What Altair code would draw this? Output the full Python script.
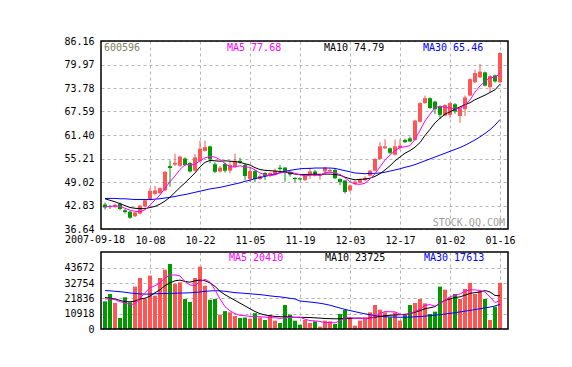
import altair as alt
import pandas as pd

# ---------------- data ----------------
opens = [43.1, 42.6, 42.5, 43.3, 41.6, 41.2, 40.0, 40.7, 42.6, 44.5,
         45.9, 46.1, 46.8, 53.2, 53.6, 53.3, 55.2, 54.0, 52.0, 54.5,
         57.2, 58.4, 53.7, 51.8, 53.8, 52.0, 53.0, 54.6, 53.5, 49.8,
         51.9, 49.8, 51.4, 50.6, 51.1, 52.8, 52.8, 51.6, 50.1, 50.0,
         49.5, 51.0, 51.8, 50.6, 51.8, 51.8, 52.2, 49.8, 49.4, 46.8,
         48.5, 48.8, 49.5, 50.7, 52.0, 55.1, 57.9, 57.9, 56.2, 58.0,
         60.1, 60.5, 60.1, 64.9, 69.8, 71.1, 70.2, 68.9, 66.5, 66.7,
         69.5, 66.4, 68.2, 71.8, 75.3, 76.6, 77.9, 74.0, 77.1, 75.3]
highs = [43.6, 43.0, 43.3, 43.6, 41.9, 41.4, 41.2, 43.0, 44.4, 47.5,
         48.0, 47.6, 51.9, 54.7, 56.5, 56.0, 55.5, 54.3, 56.4, 59.9,
         59.9, 58.6, 54.2, 53.3, 54.2, 54.6, 56.5, 55.4, 54.0, 52.9,
         52.2, 51.0, 51.6, 51.6, 52.6, 53.5, 53.0, 51.8, 50.3, 50.2,
         51.2, 52.8, 52.2, 51.3, 53.0, 52.6, 52.5, 50.0, 49.6, 48.4,
         49.4, 50.0, 50.5, 52.2, 55.3, 59.5, 60.3, 58.1, 60.2, 60.3,
         60.4, 61.0, 65.4, 70.0, 71.8, 71.3, 70.4, 69.1, 69.5, 70.0,
         69.8, 68.6, 71.8, 76.3, 78.6, 80.1, 78.1, 77.2, 77.3, 83.2]
lows = [41.8, 41.9, 42.2, 41.6, 40.7, 39.3, 39.8, 40.5, 42.3, 44.2,
        45.5, 45.8, 46.6, 47.8, 53.2, 53.0, 53.2, 51.5, 51.8, 54.2,
        57.0, 54.0, 51.4, 51.5, 51.5, 51.3, 52.8, 53.8, 49.5, 49.0,
        49.0, 49.5, 49.6, 50.3, 50.9, 52.0, 49.1, 50.4, 49.0, 49.4,
        49.3, 49.8, 50.5, 49.6, 51.0, 51.5, 49.8, 48.2, 46.0, 46.4,
        48.3, 48.6, 49.3, 50.5, 51.8, 54.9, 57.7, 56.4, 56.0, 57.5,
        59.3, 59.5, 59.9, 64.7, 69.6, 68.3, 66.9, 65.6, 66.3, 65.8,
        67.0, 64.6, 66.4, 71.6, 75.1, 76.4, 74.2, 72.7, 75.2, 75.1]
closes = [42.3, 42.4, 43.0, 41.9, 41.1, 39.6, 41.0, 42.8, 44.2, 46.7,
          46.8, 47.4, 51.7, 52.7, 54.1, 55.7, 53.5, 51.8, 55.5, 57.8,
          58.2, 55.0, 51.7, 52.8, 52.0, 53.5, 54.6, 54.2, 50.6, 51.9,
          49.8, 50.6, 50.6, 51.4, 52.0, 52.4, 51.6, 51.0, 49.8, 49.7,
          51.0, 51.8, 50.8, 51.0, 52.8, 52.2, 50.0, 49.0, 46.4, 48.1,
          49.1, 49.6, 50.1, 52.0, 55.1, 58.4, 58.4, 56.7, 58.4, 58.6,
          59.5, 59.7, 65.2, 69.8, 71.1, 68.5, 68.2, 66.7, 69.3, 69.8,
          67.6, 68.4, 71.3, 76.1, 77.7, 78.1, 74.4, 76.9, 75.5, 83.0]
ma5 = [42.5, 42.6, 42.7, 42.6, 42.1, 41.6, 41.3, 41.2, 41.7, 42.9,
       44.3, 45.6, 47.4, 49.1, 50.6, 52.3, 53.6, 53.5, 53.7, 54.6,
       55.4, 55.7, 55.6, 54.9, 53.9, 53.0, 53.0, 53.3, 53.0, 52.9,
       52.2, 51.4, 50.9, 50.7, 50.9, 51.4, 51.6, 51.7, 51.3, 50.9,
       50.6, 50.8, 50.8, 50.8, 51.5, 51.6, 51.4, 51.0, 50.1, 49.1,
       48.5, 48.4, 48.7, 49.8, 51.2, 53.0, 54.8, 56.1, 57.3, 58.1,
       58.3, 58.6, 60.3, 62.6, 65.1, 66.9, 68.6, 69.0, 68.7, 68.5,
       68.3, 68.4, 69.3, 70.6, 72.7, 74.3, 75.5, 76.6, 76.5, 77.68]
ma10 = [44.6, 44.2, 43.8, 43.3, 42.8, 42.3, 42.1, 42.0, 42.0, 42.3,
        42.6, 43.2, 44.0, 45.0, 46.3, 47.6, 48.8, 50.1, 51.4, 53.0,
        54.2, 54.7, 54.6, 54.5, 54.6, 54.5, 54.4, 54.2, 53.8, 53.5,
        52.8, 52.3, 52.1, 52.0, 51.9, 51.8, 51.6, 51.4, 51.1, 51.0,
        51.0, 51.0, 51.1, 51.0, 51.1, 51.1, 51.0, 50.8, 50.3, 49.9,
        49.6, 49.7, 49.8, 50.0, 50.5, 51.2, 52.2, 53.3, 54.6, 55.6,
        56.6, 57.3, 58.2, 59.4, 61.3, 62.9, 64.6, 65.8, 66.9, 67.5,
        68.2, 68.8, 69.4, 69.9, 70.7, 71.3, 71.9, 72.6, 73.3, 74.79]
ma30 = [44.7, 44.7, 44.7, 44.6, 44.6, 44.5, 44.4, 44.4, 44.4, 44.4,
        44.5, 44.6, 44.8, 45.0, 45.2, 45.5, 45.7, 46.0, 46.3, 46.6,
        46.9, 47.2, 47.4, 47.6, 47.9, 48.2, 48.5, 48.8, 49.2, 49.5,
        49.9, 50.2, 50.5, 50.8, 51.1, 51.5, 51.8, 52.1, 52.3, 52.5,
        52.6, 52.6, 52.7, 52.7, 52.7, 52.7, 52.6, 52.3, 52.0, 51.7,
        51.4, 51.3, 51.2, 51.3, 51.3, 51.4, 51.6, 51.9, 52.2, 52.5,
        52.9, 53.2, 53.6, 54.1, 54.6, 55.1, 55.6, 56.1, 56.6, 57.1,
        57.6, 58.1, 58.7, 59.4, 60.1, 60.9, 61.8, 62.8, 64.0, 65.46]
volumes = [19800, 25060, 18620, 7880, 22670, 19090, 30310, 36520, 21480, 38190,
           23870, 36520, 42480, 46540, 32220, 33410, 21480, 19330, 36520, 44630,
           31030, 20900, 21480, 10260, 12800, 11930, 9300, 7880, 8200, 7400,
           11300, 8230, 6440, 9900, 6000, 4300, 17180, 10260, 5970, 3100,
           6440, 4300, 5490, 1670, 5970, 5490, 3580, 10740, 13600, 7160,
           2390, 5970, 8350, 11930, 17180, 13840, 11930, 8350, 11930, 5970,
           10260, 17180, 18620, 21480, 18380, 10740, 12410, 30310, 28160, 22670,
           25060, 21480, 28640, 33000, 25060, 27330, 21480, 6440, 15990, 33000]
vma5 = [21500, 21500, 21000, 19500, 18600, 17500, 18000, 22000, 26000, 29500,
        31000, 33000, 36500, 38500, 38700, 38000, 34000, 31500, 31000, 34000,
        35500, 33500, 28000, 21500, 16000, 13000, 11000, 9800, 9500, 9000,
        9000, 8800, 8500, 8200, 8000, 7600, 8000, 8300, 8200, 8500,
        7000, 6000, 5800, 5400, 4600, 4700, 4400, 6000, 7800, 8200,
        7500, 7700, 7500, 7300, 9000, 11200, 12500, 12300, 12300, 10600,
        9700, 11200, 12500, 14000, 17000, 17400, 16300, 18500, 20400, 23000,
        24200, 25000, 27200, 28000, 28000, 27600, 26500, 23000, 18900, 20410]
vma10 = [22600, 22000, 21500, 20500, 19500, 19500, 20000, 21500, 22000, 23500,
         26000, 28000, 31000, 33000, 34500, 35000, 34000, 33500, 34500, 35000,
         34500, 33000, 30500, 27000, 24500, 22500, 20500, 18500, 16500, 14500,
         12500, 11000, 10000, 9500, 9000, 8800, 8700, 8600, 8400, 8300,
         8300, 8200, 8000, 7800, 7500, 7400, 7300, 7300, 7500, 7500,
         7800, 7800, 7600, 7800, 8400, 9000, 9500, 9800, 10000, 10200,
         10500, 11000, 12000, 13200, 14500, 15200, 16000, 18500, 20500, 21500,
         22500, 23000, 24200, 25500, 26000, 26500, 27500, 26500, 24000, 23725]
vma30 = [27500, 27300, 27000, 26700, 26300, 25800, 25400, 25100, 25000, 25000,
         25200, 25300, 25400, 25500, 25600, 25700, 25800, 25900, 26200, 26500,
         27000, 27200, 27400, 27300, 27000, 26500, 26000, 25800, 25500, 25200,
         24900, 24600, 24200, 23700, 23300, 23000, 22500, 22000, 21500, 20000,
         19700, 19300, 18900, 18400, 17800, 17000, 16000, 15000, 14000, 13200,
         12400, 11600, 10900, 10200, 9600, 9100, 8800, 8600, 8500, 8400,
         8400, 8500, 8700, 8900, 9200, 9500, 9900, 10300, 10700, 11200,
         11700, 12200, 12800, 13300, 13900, 14500, 15100, 15700, 16500, 17613]

tick_pos = [9, 19, 29, 39, 49, 59, 69, 79]
tick_labels = ["10-08", "10-22", "11-05", "11-19", "12-03", "12-17", "01-02", "01-16"]
first_label = "2007-09-18"
price_ticks = [36.64, 42.83, 49.02, 55.21, 61.40, 67.59, 73.78, 79.97, 86.16]
vol_ticks = [0, 10918, 21836, 32754, 43672]
code = "600596"
ma_price_text = ["MA5 77.68", "MA10 74.79", "MA30 65.46"]
ma_vol_text = ["MA5 20410", "MA10 23725", "MA30 17613"]
watermark = "STOCK.QQ.COM"

# ---------------- build ----------------
RED = "#ff5555"
GREEN = "#009900"
MAG = "#ff00ff"
BLUE = "#0000ff"
FONT = "DejaVu Sans Mono"
GRID = "#b4b4b4"
W, H1, H2 = 407, 188, 77

df = pd.DataFrame({
    "i": list(range(len(closes))),
    "open": opens, "high": highs, "low": lows, "close": closes,
    "ma5": ma5, "ma10": ma10, "ma30": ma30,
    "vol": volumes, "vma5": vma5, "vma10": vma10, "vma30": vma30,
})
df["dir"] = ["up" if c >= o else "down" for o, c in zip(opens, closes)]

label_arr = "[" + ",".join("'%s'" % t for t in tick_labels) + "]"
xscale = alt.Scale(domain=[-0.8, 80.6], nice=False, zero=False, padding=0)
color = alt.Color("dir:N", scale=alt.Scale(domain=["up", "down"], range=[RED, GREEN]), legend=None)

x_top_ax = alt.Axis(values=tick_pos, labelExpr=label_arr + "[round((datum.value-9)/10)]",
                    grid=True, gridDash=[3, 3], gridColor=GRID, ticks=False, domain=False,
                    labelOverlap=False, labelPadding=6, labelFont=FONT, labelFontSize=10,
                    labelColor="black")
x_bot_ax = alt.Axis(values=tick_pos, labels=False, grid=True, gridDash=[3, 3],
                    gridColor=GRID, ticks=False, domain=False, labelOverlap=False)
yp_axis = alt.Axis(values=price_ticks, format=".2f", grid=True, gridDash=[3, 3], gridColor=GRID,
                   ticks=False, domain=False, labelOverlap=False, labelPadding=7, labelFont=FONT,
                   labelFontSize=10, labelColor="black")
yp = alt.Scale(domain=[36.64, 86.16], nice=False, zero=False, padding=0)
yv = alt.Scale(domain=[0, 55100], nice=False, zero=True, padding=0)
yv_axis = alt.Axis(values=vol_ticks, format="d", grid=True, gridDash=[3, 3], gridColor=GRID,
                   ticks=False, domain=False, labelOverlap=False, labelPadding=7, labelFont=FONT,
                   labelFontSize=10, labelColor="black")


def xt():
    return alt.X("i:Q", scale=xscale, title=None, axis=x_top_ax)


def xb():
    return alt.X("i:Q", scale=xscale, title=None, axis=x_bot_ax)


def ytop(f):
    return alt.Y(f, scale=yp, title=None, axis=yp_axis)


def ybot(f):
    return alt.Y(f, scale=yv, title=None, axis=yv_axis)


base = alt.Chart(df)
wick = base.mark_rule(strokeWidth=1).encode(x=xt(), y=ytop("low:Q"), y2="high:Q", color=color)
body = base.mark_bar(size=4).encode(x=xt(), y=ytop("open:Q"), y2="close:Q", color=color)
l5 = base.mark_line(color=MAG, strokeWidth=1).encode(x=xt(), y=ytop("ma5:Q"))
l10 = base.mark_line(color="black", strokeWidth=1).encode(x=xt(), y=ytop("ma10:Q"))
l30 = base.mark_line(color=BLUE, strokeWidth=1).encode(x=xt(), y=ytop("ma30:Q"))

txt = pd.DataFrame({
    "t": [code] + ma_price_text + [watermark],
    "x": [3, 126, 223, 322, 404],
    "y": [7, 7, 7, 7, 182],
    "c": ["#808060", MAG, "black", BLUE, "#a0a0a0"],
    "a": ["left", "left", "left", "left", "right"],
})
labels_top = []
for _, r in txt.iterrows():
    labels_top.append(alt.Chart(pd.DataFrame({"t": [r.t]})).mark_text(
        font=FONT, fontSize=10, align=r.a, baseline="middle", color=r.c
    ).encode(x=alt.value(r.x), y=alt.value(r.y), text="t:N"))
first = alt.Chart(pd.DataFrame({"t": [first_label]})).mark_text(
    font=FONT, fontSize=10, align="center", baseline="top", color="black"
).encode(x=alt.value(-6), y=alt.value(H1 + 6), text="t:N")


def frame(h):
    return alt.Chart(pd.DataFrame({"t": [0]})).mark_rect(
        fillOpacity=0, stroke="black", strokeWidth=1.5
    ).encode(x=alt.value(0), x2=alt.value(W), y=alt.value(0), y2=alt.value(h))


top = alt.layer(wick, body, l30, l10, l5, *labels_top, first, frame(H1)).properties(width=W, height=H1)

vbar = base.mark_bar(size=4).encode(x=xb(), y=ybot("vol:Q"), color=color)
v5 = base.mark_line(color=MAG, strokeWidth=1).encode(x=xb(), y=ybot("vma5:Q"))
v10 = base.mark_line(color="black", strokeWidth=1).encode(x=xb(), y=ybot("vma10:Q"))
v30 = base.mark_line(color=BLUE, strokeWidth=1).encode(x=xb(), y=ybot("vma30:Q"))
vt = []
for t, xx, c in zip(ma_vol_text, [128, 224, 323], [MAG, "black", BLUE]):
    vt.append(alt.Chart(pd.DataFrame({"t": [t]})).mark_text(
        font=FONT, fontSize=10, align="left", baseline="middle", color=c
    ).encode(x=alt.value(xx), y=alt.value(6), text="t:N"))

bottom = alt.layer(vbar, v30, v10, v5, *vt, frame(H2)).properties(width=W, height=H2)

chart = alt.vconcat(top, bottom, spacing=23, bounds="flush").properties(
    padding={"left": 55, "top": 28, "right": 5, "bottom": 5}, background="white"
).configure_view(strokeWidth=0).configure_axis(labelOverlap=False)

chart.save("out.html", embed_options={"renderer": "svg", "actions": False})
